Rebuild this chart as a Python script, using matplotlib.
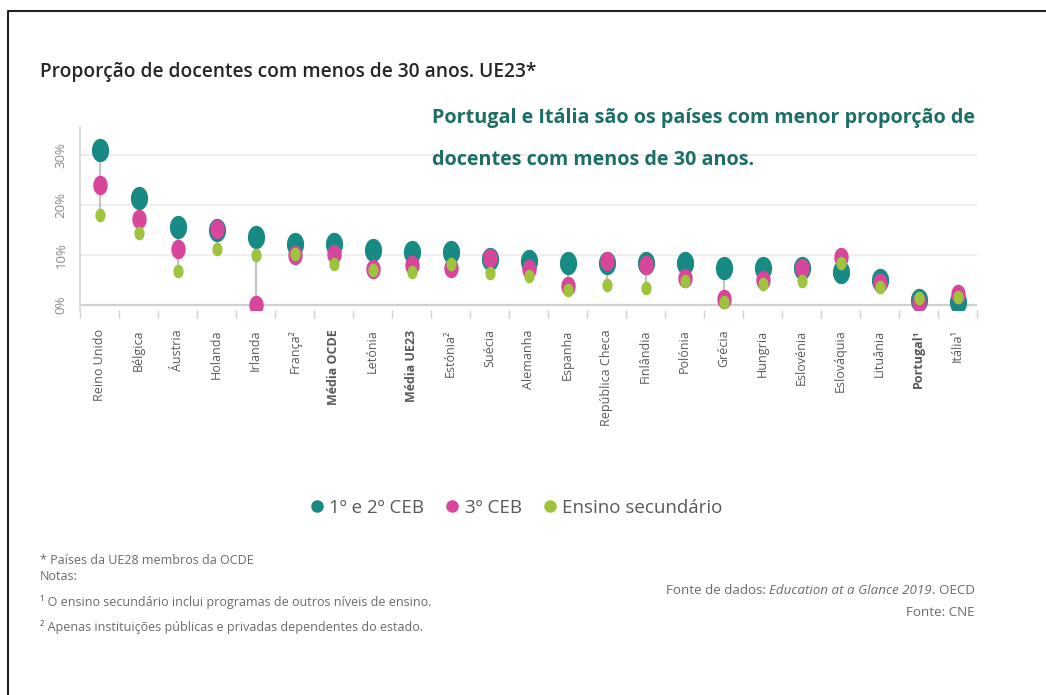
import numpy as np
import matplotlib
matplotlib.use('Agg')
import matplotlib.pyplot as plt
from matplotlib.path import Path
from matplotlib.lines import Line2D

### data (%)
paises = ['Reino Unido', 'Bélgica', 'Áustria', 'Holanda', 'Irlanda', 'França²',
          'Média OCDE', 'Letónia', 'Média UE23', 'Estónia²', 'Suécia', 'Alemanha',
          'Espanha', 'República Checa', 'Finlândia', 'Polónia', 'Grécia', 'Hungria',
          'Eslovénia', 'Eslováquia', 'Lituânia', 'Portugal¹', 'Itália¹']
negrito = ['Média OCDE', 'Média UE23', 'Portugal¹']

ceb12 = [31.0, 21.4, 15.6, 15.0, 13.6, 12.2, 12.2, 11.0, 10.6, 10.6, 9.2, 8.8,
         8.4, 8.4, 8.4, 8.4, 7.4, 7.4, 7.4, 6.6, 5.0, 1.0, 0.5]
ceb3 = [24.0, 17.2, 11.2, 15.2, 0.0, 10.0, 10.2, 7.2, 8.0, 7.4, 9.4, 7.2,
        3.8, 8.8, 8.0, 5.4, 1.2, 5.0, 7.4, 9.6, 4.4, 0.6, 2.2]
secundario = [18.0, 14.4, 6.8, 11.2, 10.0, 10.2, 8.2, 7.0, 6.6, 8.2, 6.4, 5.8,
              3.0, 4.0, 3.4, 4.8, 0.6, 4.2, 4.8, 8.4, 3.6, 1.4, 1.6]
yticks = [0, 10, 20, 30]

### style
teal = '#178a84'
rosa = '#d8469c'
verde = '#9dc43c'
cinza = '#595959'
plt.rcParams['font.family'] = ['Open Sans', 'DejaVu Sans']

# ellipse marker (dots in the reference are a bit taller than wide)
t = np.linspace(0, 2 * np.pi, 60)
elipse = Path(np.column_stack((0.72 * np.cos(t), np.sin(t))), closed=True)

fig = plt.figure(figsize=(10.46, 6.95), dpi=100)
ax = fig.add_axes([0.0765, 0.554, 0.8576, 0.2626])

x = np.arange(len(paises))
lo = np.minimum(np.minimum(ceb12, ceb3), secundario)
hi = np.maximum(np.maximum(ceb12, ceb3), secundario)
ax.vlines(x, lo, hi, color='#c4c4c4', lw=1.6, zorder=2)
ax.plot(x, ceb12, ls='none', marker=elipse, ms=15.8, color=teal, mec=teal, zorder=3)
ax.plot(x, ceb3, ls='none', marker=elipse, ms=13, color=rosa, mec=rosa, zorder=4)
ax.plot(x, secundario, ls='none', marker=elipse, ms=8.8, color=verde, mec=verde, zorder=5)

ax.set_xlim(-0.5, len(paises) - 0.5)
ax.set_ylim(-1, 35.5)
ax.set_yticks(yticks)
ax.set_yticklabels([f'{v}%' for v in yticks], rotation=90, va='center',
                   color='#8a8a8a', fontsize=9.5)
ax.tick_params(axis='y', length=0, pad=9)
for v in yticks:
    ax.axhline(v, color='#d0d0d0' if v == 0 else '#ececec', lw=1.6 if v == 0 else 1.2, zorder=1)

ax.set_xticks(x)
ax.set_xticklabels(paises, rotation=90, va='top', ha='center', color=cinza, fontsize=9)
for lab in ax.get_xticklabels():
    if lab.get_text() in negrito:
        lab.set_fontweight('bold')
ax.set_xticks(np.arange(len(paises) + 1) - 0.5, minor=True)
ax.tick_params(axis='x', which='major', length=0, pad=14)
ax.tick_params(axis='x', which='minor', length=6, color='#d0d0d0', width=1)

for s in ['top', 'right', 'bottom']:
    ax.spines[s].set_visible(False)
ax.spines['left'].set_color('#d8d8d8')
ax.spines['left'].set_linewidth(1.2)

### texts
fig.text(40 / 1046, 1 - 72 / 695, 'Proporção de docentes com menos de 30 anos. UE23*',
         fontsize=13.8, fontweight='semibold', color='#262626', va='center', ha='left')
fig.text(432 / 1046, 1 - 118 / 695, 'Portugal e Itália são os países com menor proporção de',
         fontsize=14.2, fontweight='bold', color='#1d6f66', va='center', ha='left')
fig.text(432 / 1046, 1 - 160 / 695, 'docentes com menos de 30 anos.',
         fontsize=14.2, fontweight='bold', color='#1d6f66', va='center', ha='left')

handles = [Line2D([], [], ls='none', marker='o', ms=8, color=c) for c in (teal, rosa, verde)]
fig.legend(handles, ['1º e 2º CEB', '3º CEB', 'Ensino secundário'], ncol=3,
           loc='center', bbox_to_anchor=(515 / 1046, 1 - 508 / 695), frameon=False,
           fontsize=13.5, labelcolor=cinza, handletextpad=0.15, columnspacing=1.0,
           handlelength=1.0)

nota = dict(fontsize=9, color='#6a6a6a', va='center', ha='left')
fig.text(40 / 1046, 1 - 560 / 695, '* Países da UE28 membros da OCDE', **nota)
fig.text(40 / 1046, 1 - 576 / 695, 'Notas:', **nota)
fig.text(40 / 1046, 1 - 602 / 695, '¹ O ensino secundário inclui programas de outros níveis de ensino.', **nota)
fig.text(40 / 1046, 1 - 627 / 695, '² Apenas instituições públicas e privadas dependentes do estado.', **nota)

# source line, with the italic title in the middle
r = fig.canvas.get_renderer()
xr = 975 / 1046
yf = 1 - 590 / 695
partes = [('. OECD', 'normal'), ('Education at a Glance 2019', 'italic'), ('Fonte de dados: ', 'normal')]
for txt, estilo in partes:
    tt = fig.text(xr, yf, txt, fontsize=9.6, color='#6a6a6a', va='center', ha='right', style=estilo)
    bb = tt.get_window_extent(r)
    xr = bb.x0 / (1046)
fig.text(975 / 1046, 1 - 613 / 695, 'Fonte: CNE', fontsize=9.6, color='#6a6a6a', va='center', ha='right')

# frame line (left and top only, the rest is cut off in the reference)
fig.add_artist(Line2D([8 / 1046, 8 / 1046, 1], [0, 1 - 11 / 695, 1 - 11 / 695],
                      color='#222222', lw=1.5, transform=fig.transFigure))

plt.savefig('out.png', dpi=100)
